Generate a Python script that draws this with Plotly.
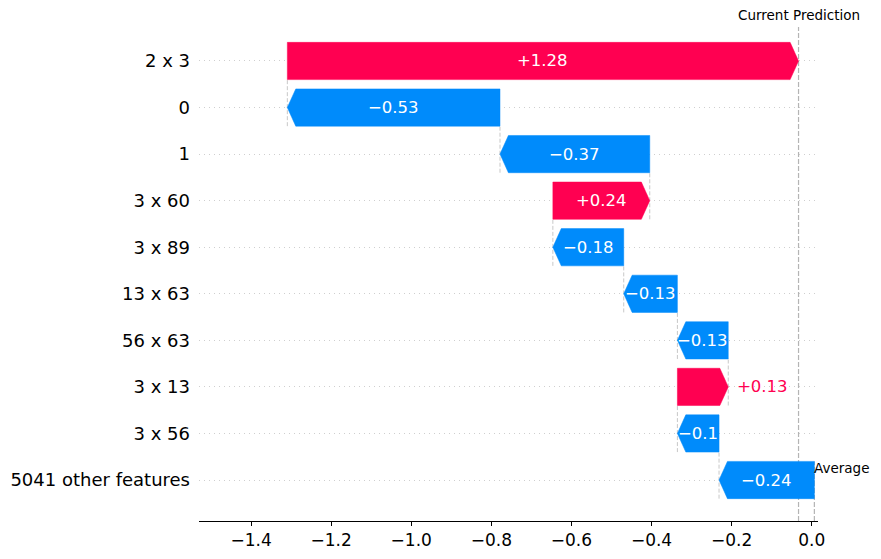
import plotly.graph_objects as go

# ---- data (bottom row first) ----
features = ["5041 other features", "3 x 56", "3 x 13", "56 x 63", "13 x 63",
            "3 x 89", "3 x 60", "1", "0", "2 x 3"]
shap_values = [-0.238, -0.104, 0.127, -0.127, -0.134, -0.177, 0.242, -0.374, -0.531, 1.2765]
base_value = 0.0066
x_ticks = [-1.4, -1.2, -1.0, -0.8, -0.6, -0.4, -0.2, 0.0]
labels_outside = ["3 x 13"]

RED = "#ff0051"
BLUE = "#008bfb"
FONT = "DejaVu Sans"
bar_h = 0.8
half = bar_h / 2
head = 0.021
y_lo, y_hi = -0.88, 9.73
x_lo, x_hi = -1.530, 0.0157

starts, ends = [], []
cum = base_value
for v in shap_values:
    starts.append(cum)
    cum += v
    ends.append(cum)
fx = ends[-1]


def fmt(v):
    s = "%+0.02f" % v
    s = s.rstrip("0").rstrip(".")
    return s.replace("-", "\u2212")


fig = go.Figure()
shapes = []
annotations = []

for j, (f, v, s, e) in enumerate(zip(features, shap_values, starts, ends)):
    lo, hi = min(s, e), max(s, e)
    hl = min(head, hi - lo)
    color = RED if v >= 0 else BLUE
    if v >= 0:
        xs = [lo, hi - hl, hi, hi - hl, lo, lo]
    else:
        xs = [hi, lo + hl, lo, lo + hl, hi, hi]
    ys = [j - half, j - half, j, j + half, j + half, j - half]
    fig.add_trace(go.Scatter(x=xs, y=ys, fill="toself", fillcolor=color,
                             mode="lines", line=dict(width=0.5, color=color),
                             hoverinfo="skip", showlegend=False))
    txt = fmt(v)
    if f in labels_outside:
        if v >= 0:
            annotations.append(dict(x=hi, y=j, xref="x", yref="y", text=txt,
                                    showarrow=False, xanchor="left", xshift=7,
                                    font=dict(family=FONT, size=16.5, color=RED)))
        else:
            annotations.append(dict(x=lo, y=j, xref="x", yref="y", text=txt,
                                    showarrow=False, xanchor="right", xshift=-7,
                                    font=dict(family=FONT, size=16.5, color=BLUE)))
    else:
        annotations.append(dict(x=(lo + hi) / 2, y=j, xref="x", yref="y", text=txt,
                                showarrow=False, xanchor="center", yanchor="middle",
                                font=dict(family=FONT, size=16.5, color="white")))
    # connector to next row
    if j < len(features) - 1:
        shapes.append(dict(type="line", xref="x", yref="y", x0=e, x1=e,
                           y0=j - half, y1=j + 1 - half, layer="below",
                           line=dict(color="#c8c8c8", width=1, dash="4px,2px")))

# current prediction line
shapes.append(dict(type="line", xref="x", yref="paper", x0=fx, x1=fx, y0=0, y1=1,
                   layer="below", line=dict(color="#b4b4b4", width=1.2, dash="5px,2px")))
# average line
shapes.append(dict(type="line", xref="x", yref="y", x0=base_value, x1=base_value,
                   y0=y_lo, y1=half, layer="below",
                   line=dict(color="#b4b4b4", width=1.2, dash="5px,2px")))

annotations.append(dict(x=fx, y=1, xref="x", yref="paper", text="Current Prediction",
                        showarrow=False, xanchor="center", yanchor="bottom", yshift=2,
                        font=dict(family=FONT, size=13.5, color="black")))
annotations.append(dict(x=base_value, y=0.26, xref="x", yref="y", text="Average",
                        showarrow=False, xanchor="left", yanchor="middle", xshift=-2,
                        font=dict(family=FONT, size=13.5, color="black")))

fig.update_layout(
    width=881, height=559,
    margin=dict(l=199, r=63, t=27, b=38),
    paper_bgcolor="white", plot_bgcolor="white",
    shapes=shapes, annotations=annotations,
    font=dict(family=FONT, color="black"),
    xaxis=dict(range=[x_lo, x_hi], tickvals=x_ticks, tickformat=".1f", automargin=False,
               showgrid=False, zeroline=False, showline=True, linecolor="black",
               linewidth=1, ticks="outside", ticklen=4, tickcolor="black",
               tickfont=dict(family=FONT, size=17, color="black")),
    yaxis=dict(range=[y_lo, y_hi], tickvals=list(range(len(features))), ticktext=features,
               automargin=False,
               showgrid=True, gridcolor="#cfcfcf", griddash="1px,4px", gridwidth=1,
               zeroline=False, showline=False, ticks="", ticklabelstandoff=8,
               tickfont=dict(family=FONT, size=18, color="black")),
)

fig.write_html("out.html")
